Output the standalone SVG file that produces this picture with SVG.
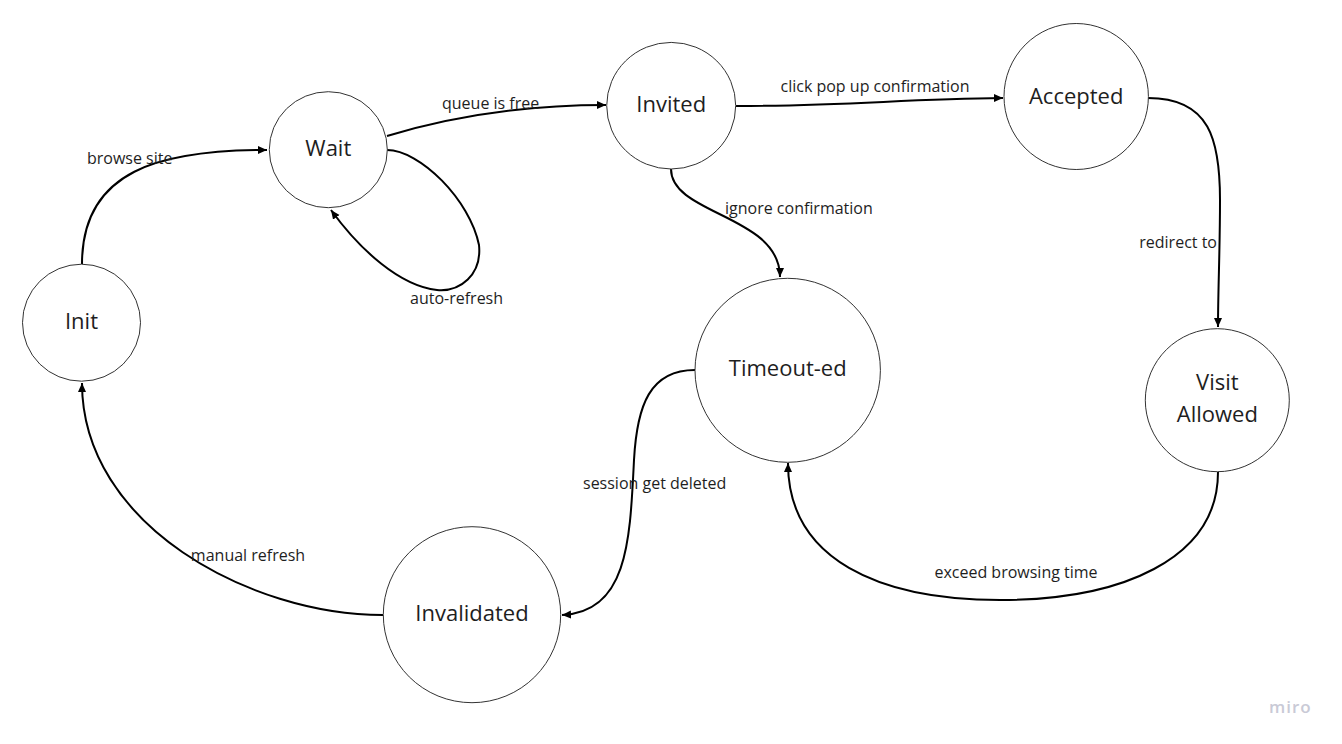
<svg xmlns="http://www.w3.org/2000/svg" width="1342" height="744" viewBox="0 0 1342 744">
<style>
.node ellipse{fill:#fff;stroke:#333;stroke-width:1}
.node text{font-family:"Open Sans","Liberation Sans",sans-serif;font-size:22px;fill:#1e1e1e;text-anchor:middle}
.edge{fill:none;stroke:#000;stroke-width:2;marker-end:url(#arr)}
.lbl{font-family:"Open Sans","Liberation Sans",sans-serif;font-size:16px;fill:#1e1e1e}
.wm{font-family:"Open Sans","Liberation Sans",sans-serif;font-size:17px;font-weight:600;fill:#c9cad6;letter-spacing:1px}
</style>
<defs>
<marker id="arr" markerUnits="userSpaceOnUse" markerWidth="10" markerHeight="10" refX="9" refY="4" orient="auto"><path d="M0,0 L9,4 L0,8 Z" fill="#000"/></marker>
</defs>
<rect width="1342" height="744" fill="#fff"/>
<g id="connectors">
<path class="edge" d="M82,264 C82,170 160,150 267,150"/>
<path class="edge" d="M387,136 C440,120 510,105 606,105"/>
<path class="edge" d="M387,150 C420,150 470,200 479,245 C482,275 460,292 437,290 C400,286 360,250 331,210"/>
<path class="edge" d="M736,106 C850,106 900,99 1003,98"/>
<path class="edge" d="M671,169 C671,215 780,215 780,277"/>
<path class="edge" d="M1148,98 C1210,98 1220,140 1220,200 C1220,250 1218,290 1218,327"/>
<path class="edge" d="M1218,472 C1218,560 1120,600 1000,600 C880,600 788,560 788,463"/>
<path class="edge" d="M695,370 C650,370 637,405 634,460 C630,540 628,612 562,615"/>
<path class="edge" d="M383,615 C250,615 82,525 82,383"/>
<text class="lbl" x="87" y="164">browse site</text>
<text class="lbl" x="442" y="109">queue is free</text>
<text class="lbl" x="875" y="92" text-anchor="middle">click pop up confirmation</text>
<text class="lbl" x="725" y="214">ignore confirmation</text>
<text class="lbl" x="410" y="304">auto-refresh</text>
<text class="lbl" x="1217" y="248" text-anchor="end">redirect to</text>
<text class="lbl" x="583" y="489">session get deleted</text>
<text class="lbl" x="1016" y="578" text-anchor="middle">exceed browsing time</text>
<text class="lbl" x="248" y="561" text-anchor="middle">manual refresh</text>
</g>
<g id="node-init" class="node"><ellipse cx="81.5" cy="322.7" rx="59" ry="58.5"/><text x="81.5" y="329">Init</text></g>
<g id="node-wait" class="node"><ellipse cx="328.3" cy="149.7" rx="59" ry="58"/><text x="328.3" y="156">Wait</text></g>
<g id="node-invited" class="node"><ellipse cx="671.2" cy="105.7" rx="64.5" ry="63.3"/><text x="671.2" y="112">Invited</text></g>
<g id="node-accepted" class="node"><ellipse cx="1076.2" cy="96.5" rx="72.2" ry="73"/><text x="1076.2" y="104">Accepted</text></g>
<g id="node-timeout" class="node"><ellipse cx="787.7" cy="370.3" rx="92.7" ry="92"/><text x="787.7" y="376">Timeout-ed</text></g>
<g id="node-visit" class="node"><ellipse cx="1217.3" cy="400.2" rx="72" ry="71.5"/><text x="1217.3" y="390">Visit</text><text x="1217.3" y="421.5">Allowed</text></g>
<g id="node-invalidated" class="node"><ellipse cx="472" cy="614.7" rx="88.7" ry="88"/><text x="472" y="621">Invalidated</text></g>
<text class="wm" x="1269" y="713">miro</text>
</svg>
